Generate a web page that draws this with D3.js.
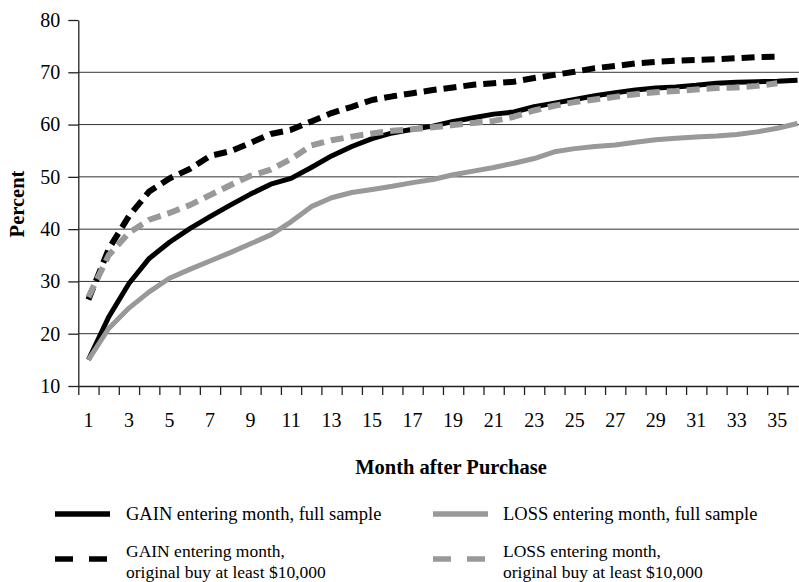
<!DOCTYPE html>
<html>
<head>
<meta charset="utf-8">
<script src="https://cdn.jsdelivr.net/npm/d3@7"></script>
<style>
  html, body { margin: 0; padding: 0; background: #fff; }
  svg { display: block; }
  text { font-family: "Liberation Serif", "Times New Roman", serif; fill: #000; }
</style>
</head>
<body>
<svg id="chart" width="799" height="582"></svg>
<script>
// ---- data ----
const months = [1,2,3,4,5,6,7,8,9,10,11,12,13,14,15,16,17,18,19,20,21,22,23,24,25,26,27,28,29,30,31,32,33,34,35,36];
const monthLabels = [1,3,5,7,9,11,13,15,17,19,21,23,25,27,29,31,33,35];
const yTicks = [10,20,30,40,50,60,70,80];
const gridValues = [20,30,40,50,60,70];

const gainFull = [15.0,23.2,29.6,34.4,37.5,40.1,42.4,44.6,46.7,48.6,49.7,51.8,54.0,55.8,57.3,58.4,59.1,59.7,60.6,61.3,62.0,62.4,63.4,64.1,64.8,65.5,66.1,66.6,67.0,67.2,67.5,67.9,68.1,68.2,68.3,68.5];
const gainBig  = [26.5,36.2,42.5,47.2,49.7,51.5,54.0,54.9,56.5,58.2,59.0,60.6,62.2,63.4,64.7,65.4,66.0,66.6,67.1,67.6,67.9,68.2,68.9,69.5,70.1,70.8,71.2,71.7,72.0,72.2,72.35,72.5,72.7,72.9,73.0];
const lossFull = [15.0,21.0,24.9,28.0,30.6,32.3,33.9,35.5,37.2,38.9,41.4,44.3,46.0,47.0,47.6,48.2,48.9,49.5,50.4,51.1,51.8,52.6,53.5,54.8,55.4,55.8,56.1,56.6,57.1,57.4,57.6,57.8,58.1,58.6,59.3,60.2];
const lossBig  = [27.0,35.0,39.3,41.8,43.1,44.6,46.5,48.4,50.2,51.4,53.4,56.0,57.0,57.7,58.3,58.8,59.1,59.5,59.9,60.3,60.7,61.5,62.7,63.6,64.3,64.8,65.3,65.8,66.2,66.4,66.7,67.0,67.1,67.4,67.9];

const seriesNames = [
  ["GAIN entering month, full sample"],
  ["LOSS entering month, full sample"],
  ["GAIN entering month,", "original buy at least $10,000"],
  ["LOSS entering month,", "original buy at least $10,000"]
];

// ---- layout ----
const svg = d3.select("#chart");
const plotLeft = 78.3, plotTop = 20, plotBottom = 386;
const bandW = 20.26;
const plotRight = plotLeft + bandW * months.length;

const x = d3.scaleBand().domain(months).range([plotLeft, plotRight]).padding(0);
const xEdge = d3.scaleLinear().domain([0, months.length]).range([plotLeft, plotRight]);
const y = d3.scaleLinear().domain([10, 80]).range([plotBottom, plotTop]);
const cx = m => x(m) + x.bandwidth() / 2;

// gridlines
svg.append("g").selectAll("line").data(gridValues).join("line")
  .attr("x1", plotLeft).attr("x2", plotRight)
  .attr("y1", d => y(d)).attr("y2", d => y(d))
  .attr("stroke", "#333").attr("stroke-width", 1);

// y axis
const yAxis = svg.append("g").attr("transform", `translate(${plotLeft},0)`)
  .call(d3.axisLeft(y).tickValues(yTicks).tickSize(10).tickPadding(8).tickSizeOuter(0).tickFormat(d3.format("d")));
yAxis.select(".domain").attr("stroke", "#222").attr("stroke-width", 1.3);
yAxis.selectAll(".tick line").attr("stroke", "#222").attr("stroke-width", 1.3);
yAxis.selectAll(".tick text").attr("font-size", 20).attr("font-family", "Liberation Serif").attr("fill", "#000");

// x axis (ticks at category boundaries)
const xAxis = svg.append("g").attr("transform", `translate(0,${plotBottom})`)
  .call(d3.axisBottom(xEdge).tickValues(d3.range(0, months.length)).tickSize(9).tickSizeOuter(0).tickFormat(""));
xAxis.select(".domain").attr("stroke", "#222").attr("stroke-width", 1.5);
xAxis.selectAll(".tick line").attr("stroke", "#222").attr("stroke-width", 1.3);

// x labels at category centres
svg.append("g").selectAll("text").data(monthLabels).join("text")
  .attr("x", d => cx(d)).attr("y", 427)
  .attr("text-anchor", "middle").attr("font-size", 20)
  .text(d => d);

// axis titles
svg.append("text").attr("x", 451).attr("y", 474).attr("text-anchor", "middle")
  .attr("font-size", 20.5).attr("font-weight", "bold").text("Month after Purchase");
svg.append("text").attr("transform", "translate(24,204) rotate(-90)").attr("text-anchor", "middle")
  .attr("font-size", 20.5).attr("font-weight", "bold").text("Percent");

// lines
const line = d3.line().x((d, i) => cx(months[i])).y(d => y(d));
const styles = [
  {data: gainFull, color: "#000", width: 5, dash: null},
  {data: gainBig,  color: "#000", width: 6, dash: "13,7"},
  {data: lossFull, color: "#999", width: 5, dash: null},
  {data: lossBig,  color: "#999", width: 6, dash: "13,7"}
];
svg.append("g").selectAll("path").data(styles).join("path")
  .attr("d", d => line(d.data))
  .attr("fill", "none")
  .attr("stroke", d => d.color)
  .attr("stroke-width", d => d.width)
  .attr("stroke-dasharray", d => d.dash)
  .attr("stroke-linejoin", "round")
  .attr("stroke-linecap", "butt");

// legend
const legendItems = [
  {style: styles[0], names: seriesNames[0], lx: 55, tx: 126, ly: 514},
  {style: styles[2], names: seriesNames[1], lx: 433, tx: 503, ly: 514},
  {style: styles[1], names: seriesNames[2], lx: 55, tx: 126, ly: 559},
  {style: styles[3], names: seriesNames[3], lx: 433, tx: 503, ly: 559}
];
const lg = svg.append("g").selectAll("g").data(legendItems).join("g");
lg.append("line")
  .attr("x1", d => d.lx).attr("x2", d => d.lx + 55)
  .attr("y1", d => d.ly).attr("y2", d => d.ly)
  .attr("stroke", d => d.style.color).attr("stroke-width", 5.5)
  .attr("stroke-dasharray", d => d.style.dash ? "18,16" : null);
lg.each(function(d) {
  const g = d3.select(this);
  const n = d.names.length;
  d.names.forEach((t, i) => {
    g.append("text")
      .attr("x", d.tx)
      .attr("y", n === 1 ? d.ly + 6 : d.ly - 2 + (i * 20.5))
      .attr("font-size", n === 1 ? 18.5 : 17.5)
      .text(t);
  });
});
</script>
</body>
</html>
